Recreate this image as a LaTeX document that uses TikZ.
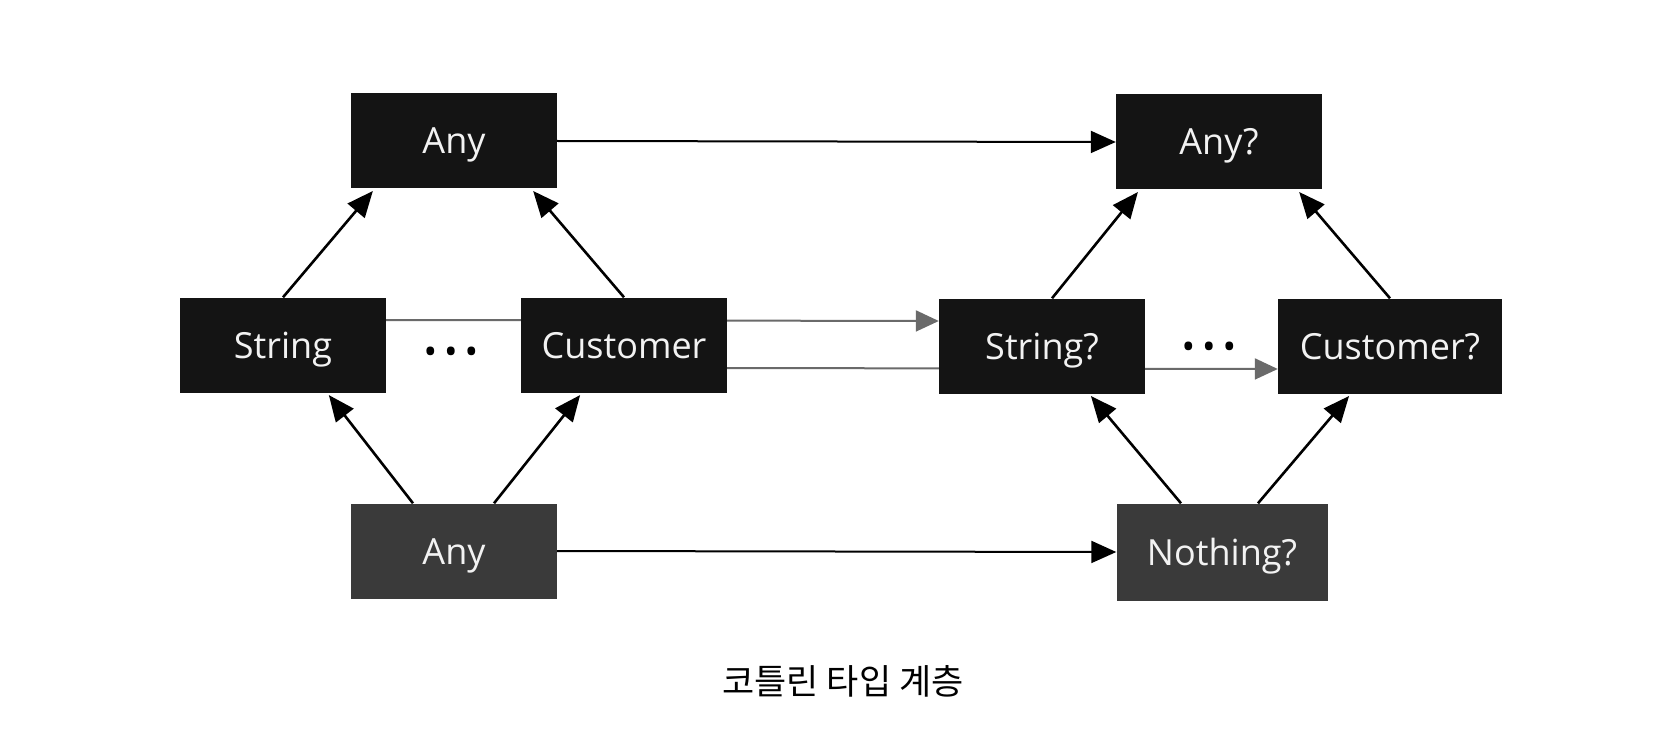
\documentclass[tikz,border=0pt]{standalone}
\usepackage{fontspec}
\setmainfont{Open Sans}
\newfontfamily\krfont{Noto Sans CJK KR}
\usetikzlibrary{arrows.meta,calc,backgrounds}
\definecolor{boxblack}{HTML}{141414}
\definecolor{boxgray}{HTML}{3A3A3A}
\definecolor{linegray}{HTML}{6A6A6A}

\begin{document}
\begin{tikzpicture}[x=1pt,y=1pt,yscale=-1,xscale=1,
  typebox/.style={fill=boxblack,text=white!95!black,minimum width=206pt,minimum height=95pt,inner sep=0pt,text height=26pt,text depth=0pt,font=\fontsize{36}{40}\selectfont},
  lowbox/.style={typebox,fill=boxgray},
  up/.style={-{Triangle[length=26pt,width=22pt]},line width=2.6pt,shorten >=3pt},
  flat/.style={-{Triangle[length=25pt,width=22pt]},line width=2pt},
  grayline/.style={-{Triangle[length=23pt,width=21pt]},line width=2pt,color=linegray}]
\useasboundingbox (0,0) rectangle (1658,754);
% Text Node
\node[typebox] (anyt) at (454,141) {Any};
\node[typebox] (anyq) at (1219,142) {Any?};
% Text Node
\node[typebox] (str) at (283,345) {String};
\node[typebox] (cus) at (624,345) {Customer};
\node[typebox] (strq) at (1042,346) {String?};
\node[typebox,minimum width=224pt] (cusq) at (1390,346) {Customer?};
% Text Node
\node[lowbox] (anyb) at (454,551) {Any};
\node[lowbox,minimum width=211pt,minimum height=97pt] (nothq) at (1222,552) {Nothing?};
% Text Node
\node[font=\fontsize{36}{40}\selectfont] (dotsl) at (451,356) {\textbullet\hspace{7pt}\textbullet\hspace{7pt}\textbullet};
\node[font=\fontsize{36}{40}\selectfont] (dotsr) at (1209,351) {\textbullet\hspace{7pt}\textbullet\hspace{7pt}\textbullet};
% Text Node
\node[font=\krfont\fontsize{35}{40}\selectfont] (caption) at (843,681) {코틀린 타입 계층};

\draw[flat] (anyt.east) -- (anyq.west);
\draw[flat] (anyb.east) -- (nothq.west);
\begin{scope}[on background layer]
\draw[grayline] ($(str.east)+(0,-25)$) -- ($(strq.west)+(0,-25)$);
\draw[grayline] ($(cus.east)+(0,23)$) -- ($(cusq.west)+(0,23)$);
\end{scope}

\draw[up] (str.north) -- ([xshift=24pt]anyt.south west);
\draw[up] (cus.north) -- ([xshift=-26pt]anyt.south east);
\draw[up] ([xshift=-41pt]anyb.north) -- ([xshift=44pt]str.south);
\draw[up] ([xshift=40pt]anyb.north) -- ([xshift=-42pt]cus.south);
\draw[up] ([xshift=10pt]strq.north) -- ([xshift=24pt]anyq.south west);
\draw[up] (cusq.north) -- ([xshift=-25pt]anyq.south east);
\draw[up] ([xshift=-41pt]nothq.north) -- ([xshift=47pt]strq.south);
\draw[up] ([xshift=36pt]nothq.north) -- ([xshift=-39pt]cusq.south);
\end{tikzpicture}
\end{document}
